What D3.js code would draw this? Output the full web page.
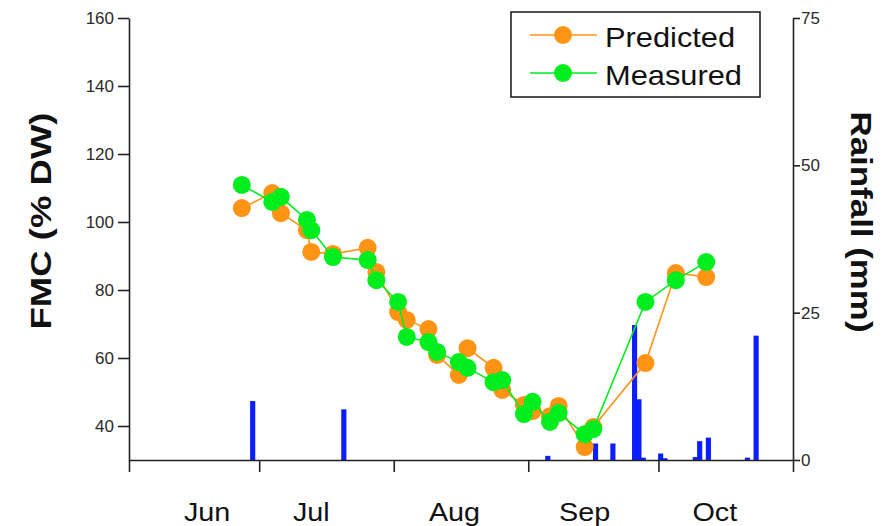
<!DOCTYPE html>
<html>
<head>
<meta charset="utf-8">
<script src="https://cdn.jsdelivr.net/npm/d3@7"></script>
<style>
  body { margin: 0; background: #fff; }
  svg { display: block; font-family: "Liberation Sans", Arial, sans-serif; }
</style>
</head>
<body>
<svg id="chart" width="893" height="526"></svg>
<script>
const YEAR = 2005;
const day = (m, d) => new Date(YEAR, m - 1, d);

// sampling dates (shared by both FMC series)
const sampleDates = [
  day(6, 27), day(7, 4), day(7, 6), day(7, 12), day(7, 13), day(7, 18),
  day(7, 26), day(7, 28), day(8, 2), day(8, 4), day(8, 9), day(8, 11),
  day(8, 16), day(8, 18), day(8, 24), day(8, 26), day(8, 31), day(9, 2),
  day(9, 6), day(9, 8), day(9, 14), day(9, 16), day(9, 28), day(10, 5), day(10, 12)
];
const predictedFMC = [
  104.1, 108.5, 102.6, 97.6, 91.2, 90.6, 92.4, 85.3, 73.5, 71.2, 68.5, 60.9,
  55.0, 62.9, 57.1, 50.6, 46.2, 44.4, 42.9, 45.9, 33.8, 39.7, 58.5, 85.0, 83.8
];
const measuredFMC = [
  110.9, 105.9, 107.4, 100.6, 97.6, 89.7, 88.8, 82.9, 76.5, 66.2, 64.7, 61.8,
  58.8, 57.1, 52.9, 53.5, 43.5, 47.1, 41.2, 43.8, 37.6, 39.1, 76.5, 82.9, 88.2
];

// daily rainfall (mm)
const rainDates = [
  day(6, 29), day(7, 20), day(9, 5), day(9, 16), day(9, 20), day(9, 25),
  day(9, 26), day(9, 27), day(10, 1), day(10, 2), day(10, 9), day(10, 10),
  day(10, 12), day(10, 21), day(10, 23)
];
const rainfall = [10, 8.6, 0.7, 2.8, 2.8, 22.9, 10.3, 0.4, 1.1, 0.3, 0.5, 3.2, 3.8, 0.4, 21.1];

const monthTicks = [day(6, 1), day(7, 1), day(8, 1), day(9, 1), day(10, 1), day(11, 1)];
const monthLabels = ['Jun', 'Jul', 'Aug', 'Sep', 'Oct'];
const monthLabelDates = [day(6, 19), day(7, 13), day(8, 15), day(9, 14), day(10, 14)];
const fmcTicks = [40, 60, 80, 100, 120, 140, 160];
const rainTicks = [0, 25, 50, 75];

const ORANGE = '#ff9414';
const GREEN = '#00ee1e';
const BLUE = '#0a1eff';

const svg = d3.select('#chart');
const plotLeft = 129, plotRight = 793, plotTop = 18, plotBottom = 460;

const x = d3.scaleTime().domain([day(6, 1), day(11, 1)]).range([plotLeft, plotRight]);
const yL = d3.scaleLinear().domain([30, 160]).range([plotBottom, plotTop]);
const yR = d3.scaleLinear().domain([0, 75]).range([plotBottom, plotTop]);

// the source figure's larger text is a little wider than Liberation Sans
const stretch = (sel, k) => sel.each(function () {
  const w = this.getComputedTextLength();
  d3.select(this).attr('textLength', w * k).attr('lengthAdjust', 'spacingAndGlyphs');
});

// rainfall bars
svg.append('g')
  .selectAll('rect')
  .data(rainDates.map((d, i) => ({ date: d, value: rainfall[i] })))
  .enter()
  .append('rect')
  .attr('x', (d) => x(d.date) - 0.4)
  .attr('width', (d) => x(d3.timeDay.offset(d.date, 1)) - x(d.date) + 0.8)
  .attr('y', (d) => yR(d.value))
  .attr('height', (d) => plotBottom - yR(d.value))
  .attr('fill', BLUE);

// axes
const styleAxis = (g, size) => {
  g.selectAll('path, line').attr('stroke', '#222').attr('stroke-width', 1.6);
  g.selectAll('text').attr('font-size', size).attr('fill', '#2a2a2a')
    .attr('font-family', '"Liberation Sans", Arial, sans-serif');
};

svg.append('g')
  .attr('transform', `translate(0,${plotBottom})`)
  .call(d3.axisBottom(x).tickValues(monthTicks).tickFormat('').tickSize(12).tickSizeOuter(0))
  .call((g) => styleAxis(g, 17));

svg.append('g')
  .attr('transform', `translate(${plotLeft},0)`)
  .call(d3.axisLeft(yL).tickValues(fmcTicks).tickSize(11).tickSizeOuter(0).tickPadding(4))
  .call((g) => styleAxis(g, 17));

svg.append('g')
  .attr('transform', `translate(${plotRight},0)`)
  .call(d3.axisRight(yR).tickValues(rainTicks).tickSize(7).tickSizeOuter(0).tickPadding(1))
  .call((g) => styleAxis(g, 17));

svg.append('g')
  .selectAll('text')
  .data(monthLabels)
  .enter()
  .append('text')
  .attr('x', (d, i) => x(monthLabelDates[i]))
  .attr('y', 521)
  .attr('text-anchor', 'middle')
  .attr('font-size', 25)
  .attr('fill', '#111')
  .text((d) => d)
  .call(stretch, 1.15);

// axis titles
svg.append('text')
  .attr('transform', 'translate(51,221) rotate(-90)')
  .attr('text-anchor', 'middle')
  .attr('font-size', 29)
  .attr('font-weight', 'bold')
  .attr('fill', '#111')
  .text('FMC (% DW)')
  .attr('textLength', 217)
  .attr('lengthAdjust', 'spacingAndGlyphs');

svg.append('text')
  .attr('transform', 'translate(851,222) rotate(90)')
  .attr('text-anchor', 'middle')
  .attr('font-size', 29)
  .attr('font-weight', 'bold')
  .attr('fill', '#111')
  .text('Rainfall (mm)')
  .attr('textLength', 221)
  .attr('lengthAdjust', 'spacingAndGlyphs');

// FMC series
const drawSeries = (values, color) => {
  const pts = sampleDates.map((d, i) => [x(d), yL(values[i])]);
  svg.append('path')
    .attr('d', d3.line()(pts))
    .attr('fill', 'none')
    .attr('stroke', color)
    .attr('stroke-width', 1.6);
  svg.append('g')
    .selectAll('circle')
    .data(pts)
    .enter()
    .append('circle')
    .attr('cx', (d) => d[0])
    .attr('cy', (d) => d[1])
    .attr('r', 9)
    .attr('fill', color);
};
drawSeries(predictedFMC, ORANGE);
drawSeries(measuredFMC, GREEN);

// legend
const legend = svg.append('g');
legend.append('rect')
  .attr('x', 511).attr('y', 12).attr('width', 249).attr('height', 85)
  .attr('fill', '#fff').attr('stroke', '#222').attr('stroke-width', 1.6);
[['Predicted', ORANGE, 35], ['Measured', GREEN, 73]].forEach(([name, color, ly]) => {
  legend.append('line')
    .attr('x1', 530).attr('x2', 597).attr('y1', ly).attr('y2', ly)
    .attr('stroke', color).attr('stroke-width', 1.6);
  legend.append('circle').attr('cx', 563).attr('cy', ly).attr('r', 9).attr('fill', color);
  legend.append('text')
    .attr('x', 605).attr('y', ly + 12)
    .attr('font-size', 28)
    .attr('fill', '#111')
    .text(name)
    .call(stretch, 1.1);
});
</script>
</body>
</html>
